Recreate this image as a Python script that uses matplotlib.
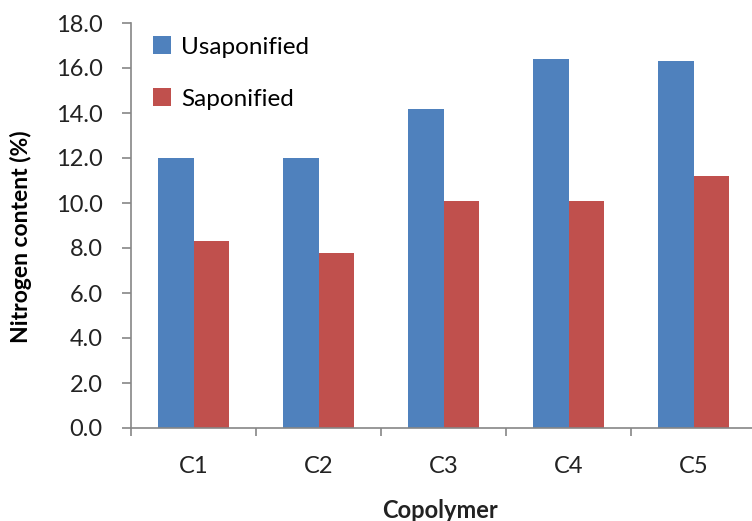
import matplotlib.pyplot as plt
import numpy as np

# data
copolymers = ['C1', 'C2', 'C3', 'C4', 'C5']
unsaponified = [12.0, 12.0, 14.2, 16.4, 16.3]
saponified = [8.3, 7.8, 10.1, 10.1, 11.2]
y_ticks = [0, 2, 4, 6, 8, 10, 12, 14, 16, 18]

plt.rcParams['font.family'] = ['Lato', 'DejaVu Sans']

fig = plt.figure(figsize=(7.52, 5.21), dpi=100)
W, H = 752, 521
# axes runs past the right edge, the original image is cropped there
ax = fig.add_axes([131 / W, 1 - 428 / H, (756 - 131) / W, (428 - 23) / H])

x = np.arange(len(copolymers))
bw = 0.286
ax.bar(x - bw / 2, unsaponified, bw, color='#4F81BD', label='Usaponified')
ax.bar(x + bw / 2, saponified, bw, color='#C0504D', label='Saponified')

ax.set_xlim(-0.5, len(copolymers) - 0.5)
ax.set_ylim(0, 18)
ax.set_yticks(y_ticks)
ax.set_yticklabels([f'{v:.1f}' for v in y_ticks])

# category labels without marks, tick marks between categories
ax.set_xticks(x)
ax.set_xticklabels(copolymers)
ax.set_xticks(np.arange(-0.5, len(copolymers)), minor=True)
ax.tick_params(axis='x', which='major', length=0, pad=20, labelsize=17, labelcolor='#222222')
ax.tick_params(axis='x', which='minor', length=6, width=1.2, color='#868686', direction='out')
ax.tick_params(axis='y', length=6.5, width=1.2, color='#868686', direction='out',
               labelsize=17, labelcolor='#222222', pad=14)

for s in ['top', 'right']:
    ax.spines[s].set_visible(False)
for s in ['left', 'bottom']:
    ax.spines[s].set_color('#868686')
    ax.spines[s].set_linewidth(1.2)

ax.set_ylabel('Nitrogen content (%)', fontsize=16.5, fontweight='bold')
ax.yaxis.set_label_coords(-(131 - 32) / (756 - 131), (428 - 237) / (428 - 23))
ax.set_xlabel('Copolymer', fontsize=17, fontweight='bold', color='#222222')
ax.xaxis.set_label_coords((440 - 131) / (756 - 131), -(499 - 428) / (428 - 23))

leg = ax.legend(loc='upper left', bbox_to_anchor=(0.014, 1.0), frameon=False,
                fontsize=17.5, handlelength=0.75, handleheight=0.75, handletextpad=0.4,
                labelspacing=1.25, borderaxespad=0.15)

fig.savefig('out.png', dpi=100)
